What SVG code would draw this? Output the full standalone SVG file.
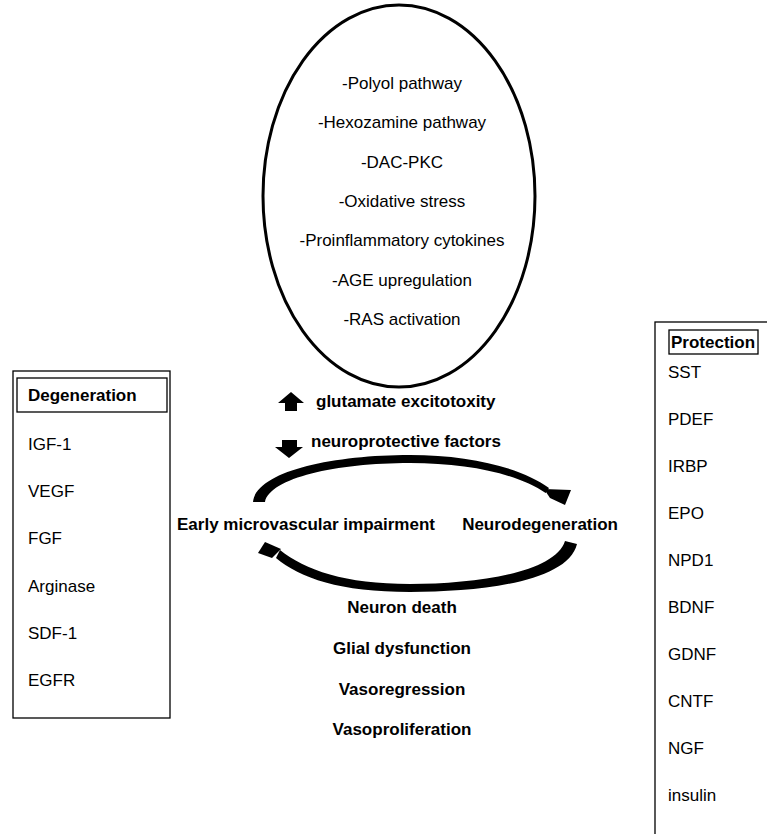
<svg xmlns="http://www.w3.org/2000/svg" width="767" height="834" viewBox="0 0 767 834">
<style>
text{font-family:"Liberation Sans",Arial,sans-serif;font-size:17px;fill:#000}
.b{font-weight:bold}
.c{text-anchor:middle}
.box{fill:none;stroke:#000;stroke-width:1.3}
</style>
<rect width="767" height="834" fill="#fff"/>
<g id="mechanisms">
<ellipse cx="399" cy="196" rx="136" ry="191" fill="none" stroke="#000" stroke-width="3"/>
<text class="c" x="402" y="89">-Polyol pathway</text>
<text class="c" x="402" y="128">-Hexozamine pathway</text>
<text class="c" x="402" y="168">-DAC-PKC</text>
<text class="c" x="402" y="207">-Oxidative stress</text>
<text class="c" x="402" y="246">-Proinflammatory cytokines</text>
<text class="c" x="402" y="286">-AGE upregulation</text>
<text class="c" x="402" y="325">-RAS activation</text>
</g>
<g id="glutamate">
<polygon points="291,392 304,403 297,403 297,411 285,411 285,403 278,403"/>
<text class="b" x="316" y="407">glutamate excitotoxity</text>
</g>
<g id="neuroprotective">
<polygon points="282,440 297,440 297,447 303,447 289,458 275,447 282,447"/>
<text class="b" x="311" y="447">neuroprotective factors</text>
</g>
<g id="degeneration">
<rect class="box" x="13" y="371" width="157" height="347"/>
<rect class="box" x="17" y="378" width="150" height="34"/>
<text class="b" x="28" y="401">Degeneration</text>
<text x="28" y="450">IGF-1</text>
<text x="28" y="497">VEGF</text>
<text x="28" y="544">FGF</text>
<text x="28" y="592">Arginase</text>
<text x="28" y="639">SDF-1</text>
<text x="28" y="686">EGFR</text>
</g>
<g id="protection">
<rect class="box" x="655" y="322" width="130" height="530"/>
<rect class="box" x="669" y="330" width="89" height="24"/>
<text class="b" x="671" y="348">Protection</text>
<text x="668" y="378">SST</text>
<text x="668" y="425">PDEF</text>
<text x="668" y="472">IRBP</text>
<text x="668" y="519">EPO</text>
<text x="668" y="566">NPD1</text>
<text x="668" y="613">BDNF</text>
<text x="668" y="660">GDNF</text>
<text x="668" y="707">CNTF</text>
<text x="668" y="754">NGF</text>
<text x="668" y="801">insulin</text>
</g>
<g id="early">
<text class="b" x="177" y="530">Early microvascular impairment</text>
</g>
<g id="neurodegeneration">
<text class="b" x="618" y="530" text-anchor="end">Neurodegeneration</text>
</g>
<g id="outcomes">
<text class="b c" x="402" y="613">Neuron death</text>
<text class="b c" x="402" y="654">Glial dysfunction</text>
<text class="b c" x="402" y="695">Vasoregression</text>
<text class="b c" x="402" y="735">Vasoproliferation</text>
</g>
<g id="connectors">
<path d="M253,502 C256,472 330,455 410,455 C470,455 522,468 549,488 L545.6,493 C518,474 468,463 410,463 C336,463 270,478 265,502 Z"/>
<polygon points="544,489 571,490 565,505 550,498"/>
<path d="M577,544 C568,582 480,592 410,592 C340,592 300,578 276,558 L280,550 C305,570 345,584 410,584 C475,584 555,573 565,541 Z"/>
<polygon points="265,542 281,549 272,558 258,553"/>
</g>
</svg>
